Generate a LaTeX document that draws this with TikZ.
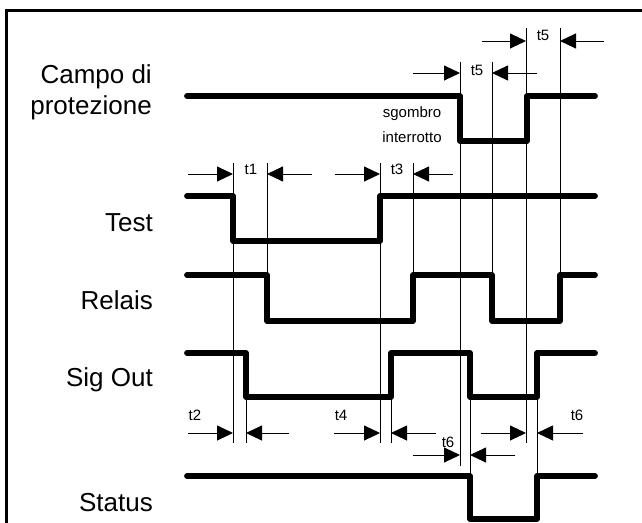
\documentclass[tikz,border=0pt]{standalone}
\usepackage{fontspec}
\setmainfont{Liberation Sans}
\usetikzlibrary{arrows.meta}
\tikzset{
  sig/.style   = {line width=5.8pt, line cap=round, line join=round},
  vline/.style = {line width=0.9pt},
  dimr/.style  = {-{Triangle[length=16pt,width=15pt]}, line width=0.9pt},
  sname/.style = {font=\fontsize{26}{31}\selectfont, anchor=east, align=right, inner sep=0pt},
  tlab/.style  = {font=\fontsize{15}{25}\selectfont, inner sep=0pt, align=center},
}

\begin{document}
\begin{tikzpicture}[x=1pt,y=-1pt]
  \useasboundingbox (0,0) rectangle (642,522);
  \clip (0,0) rectangle (642,522);
  \draw[line width=2.6pt] (6.5,540) |- (660,10.5);

  % signal names
  \node[sname] (campo)  at (152,92)  {Campo di\\protezione};
  \node[sname] (test)   at (153,223) {Test};
  \node[sname] (relais) at (153,300) {Relais};
  \node[sname] (sigout) at (153,380) {Sig Out};
  \node[sname] (status) at (153,503) {Status};

  % timing lines
  \foreach \x/\a/\b in {233/163/443, 246/353/443, 267/163/321, 380/163/443,
                        391/353/443, 413/163/321, 460/62/466, 470/353/476,
                        492/62/321, 526/28/443, 537/353/476, 560/28/321}
    \draw[vline] (\x,\a) -- (\x,\b);

  % signals
  \draw[sig] (187,96) -- (460,96) -- (460,141) -- (527,141) -- (527,96) -- (595,96);
  \draw[sig] (187,196) -- (233,196) -- (233,241) -- (380,241) -- (380,196) -- (595,196);
  \draw[sig] (187,275) -- (267,275) -- (267,321) -- (413,321) -- (413,275)
             -- (492,275) -- (492,321) -- (560,321) -- (560,275) -- (595,275);
  \draw[sig] (187,353) -- (246,353) -- (246,397) -- (391,397) -- (391,353)
             -- (470,353) -- (470,397) -- (537,397) -- (537,353) -- (595,353);
  \draw[sig] (187,476) -- (470,476) -- (470,519) -- (537,519) -- (537,476) -- (595,476);

  \node[tlab] (sgombro) at (412,125) {sgombro\\interrotto};

  % durations
  \foreach \y/\a/\b/\c/\d in {41/482/526/604/560, 73/413/460/537/492,
                              174/188/233/312/267, 174/335/380/453/413,
                              433/188/233/289/246, 433/334/380/436/391,
                              455/413/460/515/470, 433/481/526/583/537} {
    \draw[dimr] (\a,\y) -- (\b,\y);
    \draw[dimr] (\c,\y) -- (\d,\y);
  }
  \node[tlab] (t5a) at (543,35)  {t5};
  \node[tlab] (t5b) at (477,70)  {t5};
  \node[tlab] (t1)  at (251,169) {t1};
  \node[tlab] (t3)  at (397,169) {t3};
  \node[tlab] (t2)  at (195,415) {t2};
  \node[tlab] (t4)  at (341,415) {t4};
  \node[tlab] (t6a) at (448,442) {t6};
  \node[tlab] (t6b) at (577,415) {t6};
\end{tikzpicture}
\end{document}
